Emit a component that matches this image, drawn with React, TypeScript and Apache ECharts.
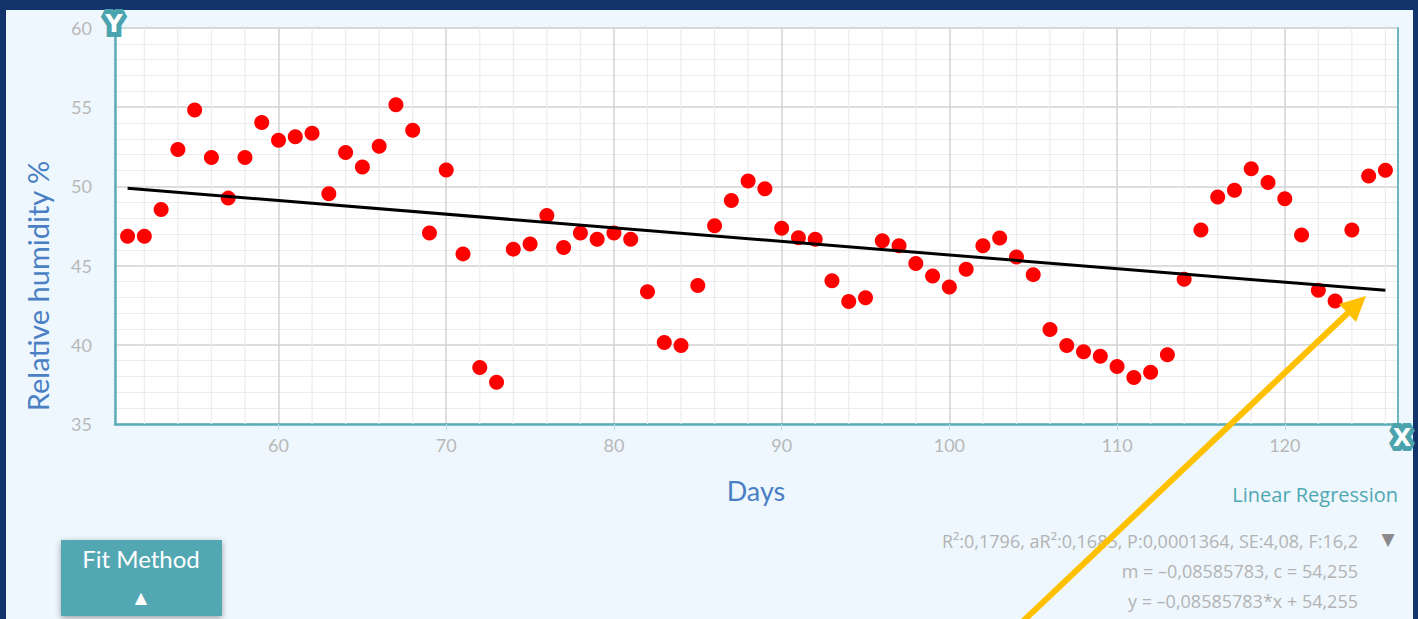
import React, { useEffect, useRef } from "react";
import * as echarts from "echarts";

const days = [
  51, 52, 53, 54, 55, 56, 57, 58, 59, 60, 61, 62, 63, 64, 65, 66, 67, 68, 69, 70,
  71, 72, 73, 74, 75, 76, 77, 78, 79, 80, 81, 82, 83, 84, 85, 86, 87, 88, 89, 90,
  91, 92, 93, 94, 95, 96, 97, 98, 99, 100, 101, 102, 103, 104, 105, 106, 107, 108, 109, 110,
  111, 112, 113, 114, 115, 116, 117, 118, 119, 120, 121, 122, 123, 124, 125, 126,
];

const humidity = [
  46.85, 46.85, 48.54, 52.33, 54.83, 51.82, 49.26, 51.82, 54.03, 52.92,
  53.14, 53.35, 49.54, 52.14, 51.23, 52.54, 55.15, 53.54, 47.06, 51.04,
  45.74, 38.56, 37.64, 46.04, 46.36, 48.16, 46.15, 47.06, 46.66, 47.06,
  46.66, 43.35, 40.15, 39.96, 43.75, 47.52, 49.11, 50.34, 49.85, 47.36,
  46.76, 46.66, 44.05, 42.74, 42.97, 46.57, 46.25, 45.13, 44.35, 43.65,
  44.77, 46.25, 46.74, 45.55, 44.43, 40.96, 39.96, 39.56, 39.27, 38.63,
  37.93, 38.27, 39.37, 44.14, 47.25, 49.33, 49.75, 51.12, 50.24, 49.22,
  46.93, 43.44, 42.76, 47.25, 50.66, 51.02,
];

const slope = -0.08585783;
const intercept = 54.255;
const fitDays = [51, 126];

const minorGridDays = [
  52, 54, 56, 58, 62, 64, 66, 68, 72, 74, 76, 78, 82, 84, 86, 88, 92, 94, 96, 98,
  102, 104, 106, 108, 112, 114, 116, 118, 122, 124, 126,
];

const xTitle = "Days";
const yTitle = "Relative humidity %";
const fitName = "Linear Regression";
const statsLines = [
  "R²:0,1796, aR²:0,1685, P:0,0001364, SE:4,08, F:16,2",
  "m = –0,08585783, c = 54,255",
  "y = –0,08585783*x + 54,255",
];

const FONT = "Lato, 'Open Sans', sans-serif";
const FONT2 = "'Open Sans', Lato, sans-serif";

export default function App() {
  const ref = useRef<HTMLDivElement>(null);

  useEffect(() => {
    const chart = echarts.init(ref.current!, null, { renderer: "svg" });
    const points = days.map((d, i) => [d, humidity[i]]);
    const fitLine = fitDays.map((d) => [d, slope * d + intercept]);

    chart.setOption({
      animation: false,
      backgroundColor: "transparent",
      textStyle: { fontFamily: FONT },
      grid: {
        left: 115,
        top: 28,
        right: 20,
        bottom: 195,
        show: true,
        backgroundColor: "#ffffff",
        borderColor: "#bcdadd",
        borderWidth: 1,
      },
      xAxis: {
        type: "value",
        min: 50.25,
        max: 126.75,
        splitNumber: 8,
        axisLine: { show: true, lineStyle: { color: "#5aaeb8", width: 2.5 } },
        axisTick: { show: true, length: 6, lineStyle: { color: "#b9dbf2", width: 1 } },
        axisLabel: {
          color: "#b8b8b8",
          fontSize: 18,
          margin: 12,
          fontFamily: FONT,
          showMinLabel: false,
          showMaxLabel: false,
        },
        splitLine: { show: true, lineStyle: { color: "#d2d2d2", width: 1.5 } },
      },
      yAxis: [
        {
          type: "value",
          min: 35,
          max: 60,
          interval: 5,
          axisLine: { show: true, lineStyle: { color: "#5aaeb8", width: 2.5 } },
          axisTick: { show: false },
          minorTick: { show: false, splitNumber: 5 },
          minorSplitLine: { show: true, lineStyle: { color: "#ececec", width: 1 } },
          axisLabel: { color: "#b8b8b8", fontSize: 18, margin: 23, fontFamily: FONT },
          splitLine: { show: true, lineStyle: { color: "#d2d2d2", width: 1.5 } },
        },
        {
          type: "value",
          position: "right",
          min: 35,
          max: 60,
          interval: 5,
          axisLine: { show: true, lineStyle: { color: "#6db8c1", width: 2 } },
          axisTick: { show: false },
          axisLabel: { show: false },
          splitLine: { show: false },
        },
      ],
      series: [
        {
          type: "custom",
          z: 1,
          silent: true,
          data: minorGridDays.map((d) => [d, 35]),
          renderItem: (params: any, api: any) => {
            const x = api.value(0);
            const top = api.coord([x, 60]);
            const bot = api.coord([x, 35]);
            return {
              type: "line",
              shape: { x1: top[0], y1: top[1], x2: bot[0], y2: bot[1] },
              style: { stroke: "#ececec", lineWidth: 1.2 },
            };
          },
        },
        {
          type: "scatter",
          z: 3,
          data: points,
          symbolSize: 15,
          itemStyle: { color: "#ff0000", opacity: 1 },
        },
        {
          type: "line",
          z: 4,
          data: fitLine,
          symbol: "none",
          lineStyle: { color: "#000000", width: 3 },
        },
      ],
      graphic: [
        {
          type: "text",
          x: 37,
          y: 286,
          rotation: Math.PI / 2,
          style: {
            text: yTitle,
            fill: "#4a7fc4",
            font: `29px ${FONT}`,
            align: "center",
            verticalAlign: "middle",
          },
        },
        {
          type: "text",
          x: 756,
          y: 490,
          style: {
            text: xTitle,
            fill: "#4a7fc4",
            font: `27px ${FONT}`,
            align: "center",
            verticalAlign: "middle",
          },
        },
        {
          type: "text",
          x: 1398,
          y: 494,
          style: {
            text: fitName,
            fill: "#4ea8b2",
            font: `20px ${FONT2}`,
            align: "right",
            verticalAlign: "middle",
          },
        },
        ...statsLines.map((t, i) => ({
          type: "text",
          x: 1358,
          y: 541 + i * 30,
          style: {
            text: t,
            fill: "#b3b3b3",
            font: `18px ${FONT2}`,
            align: "right",
            verticalAlign: "middle",
          },
        })),
        {
          type: "text",
          x: 1388,
          y: 539,
          style: {
            text: "▼",
            fill: "#8a8a8a",
            font: `17px 'DejaVu Sans', sans-serif`,
            align: "center",
            verticalAlign: "middle",
          },
        },
        {
          type: "rect",
          shape: { x: 61, y: 540, width: 161, height: 76 },
          style: {
            fill: "#52a7b2",
            shadowBlur: 6,
            shadowColor: "rgba(0,0,0,0.35)",
            shadowOffsetY: 2,
          },
        },
        {
          type: "text",
          x: 141,
          y: 558,
          style: {
            text: "Fit Method",
            fill: "#ffffff",
            font: `24px ${FONT}`,
            align: "center",
            verticalAlign: "middle",
          },
        },
        {
          type: "text",
          x: 141,
          y: 597,
          style: {
            text: "▲",
            fill: "#ffffff",
            font: `16px 'DejaVu Sans', sans-serif`,
            align: "center",
            verticalAlign: "middle",
          },
        },
        {
          type: "text",
          x: 114,
          y: 24,
          z: 50,
          style: {
            text: "Y",
            fill: "#ffffff",
            stroke: "#4aa3ad",
            lineWidth: 10,
            lineJoin: "round",
            font: `900 24px 'DejaVu Sans', sans-serif`,
            align: "center",
            verticalAlign: "middle",
          },
        },
        {
          type: "text",
          x: 1402,
          y: 438,
          z: 50,
          style: {
            text: "X",
            fill: "#ffffff",
            stroke: "#4aa3ad",
            lineWidth: 10,
            lineJoin: "round",
            font: `900 24px 'DejaVu Sans', sans-serif`,
            align: "center",
            verticalAlign: "middle",
          },
        },
        {
          type: "line",
          z: 100,
          shape: { x1: 1018, y1: 626, x2: 1350, y2: 311 },
          style: { stroke: "#ffc000", lineWidth: 6 },
        },
        {
          type: "polygon",
          z: 100,
          shape: {
            points: [
              [1366, 296],
              [1356, 322],
              [1339, 304],
            ],
          },
          style: { fill: "#ffc000" },
        },
      ],
    });

    return () => chart.dispose();
  }, []);

  return (
    <div
      style={{
        position: "fixed",
        left: 0,
        top: 0,
        width: 1418,
        height: 619,
        background: "#12336b",
        overflow: "hidden",
      }}
    >
      <div
        style={{
          position: "absolute",
          left: 6,
          top: 10,
          width: 1407,
          height: 609,
          background: "#eef7fd",
        }}
      />
      <div
        ref={ref}
        style={{ position: "absolute", left: 0, top: 0, width: 1418, height: 619 }}
      />
    </div>
  );
}
